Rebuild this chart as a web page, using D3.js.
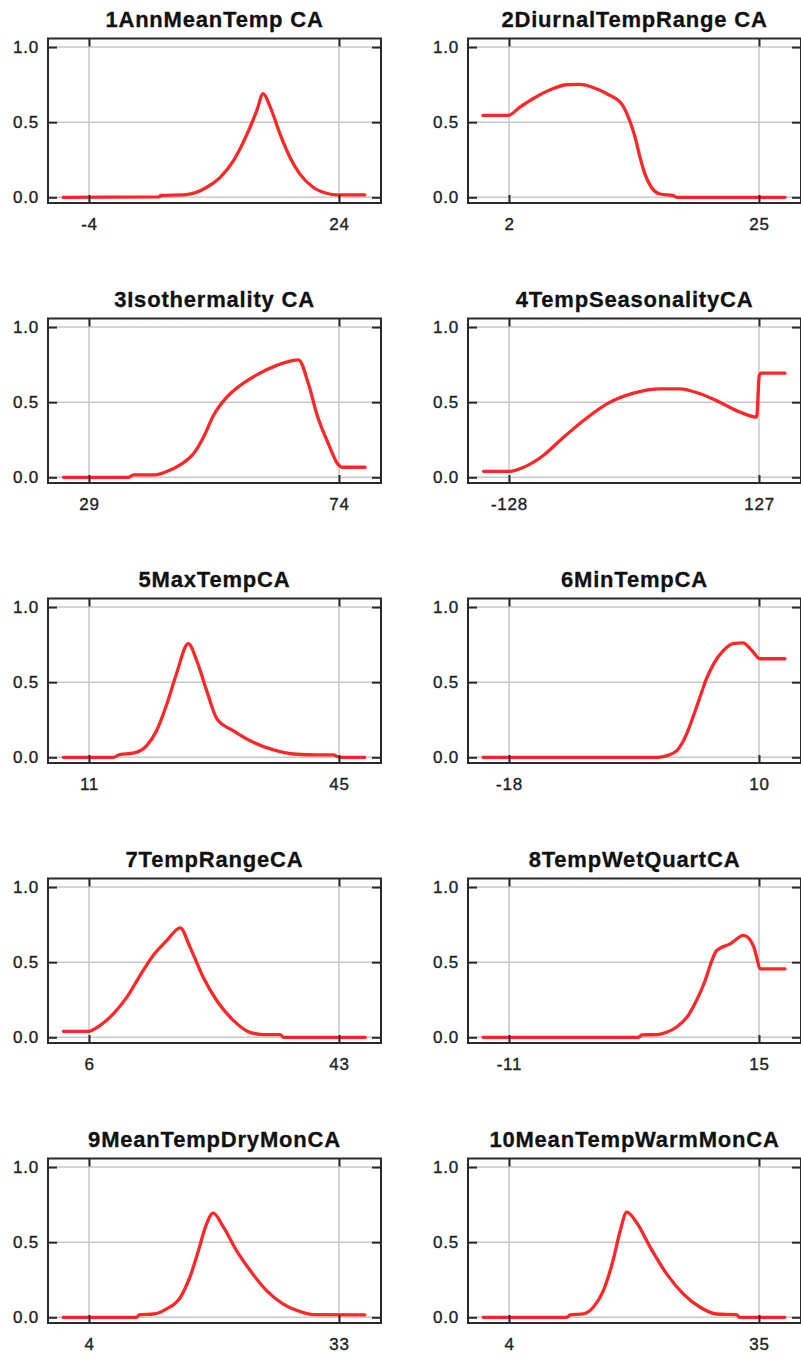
<!DOCTYPE html>
<html>
<head>
<meta charset="utf-8">
<script src="https://cdn.jsdelivr.net/npm/d3@7"></script>
<style>
  html, body { margin: 0; padding: 0; background: #fff; }
  svg { display: block; }
</style>
</head>
<body>
<svg id="chart" width="801" height="1357"></svg>
<script>
// ---------- data ----------
const titles = [
  "1AnnMeanTemp CA", "2DiurnalTempRange CA", "3Isothermality CA", "4TempSeasonalityCA",
  "5MaxTempCA", "6MinTempCA", "7TempRangeCA", "8TempWetQuartCA",
  "9MeanTempDryMonCA", "10MeanTempWarmMonCA"
];
const xTickLabels = [
  [-4, 24], [2, 25], [29, 74], [-128, 127], [11, 45],
  [-18, 10], [6, 43], [-11, 15], [4, 33], [4, 35]
];
const yTickValues = [0.0, 0.5, 1.0];

const s1 = [[-6.9,0],[3.9,0.003],[4.0,0.012],[6.9,0.018],[9.2,0.067],[10.7,0.133],[12.2,0.245],[13.7,0.42],[14.8,0.578],[15.5,0.69],[16.3,0.6],[17.4,0.42],[18.5,0.267],[19.6,0.156],[21.1,0.067],[22.6,0.027],[23.7,0.016],[26.9,0.016]];
const s2 = [[-0.4,0.545],[1.9,0.545],[3.0,0.6],[4.2,0.656],[5.8,0.716],[7.3,0.749],[8.5,0.751],[9.8,0.729],[11.0,0.689],[12.4,0.618],[13.1,0.511],[13.6,0.4],[14.05,0.267],[14.5,0.156],[15.1,0.067],[15.9,0.022],[17.1,0.011],[17.4,0],[27.4,0]];
const s3 = [[24.4,0],[36.1,0],[37.0,0.016],[40.9,0.016],[43.0,0.038],[45.4,0.082],[47.8,0.156],[49.6,0.267],[51.4,0.411],[53.8,0.533],[56.2,0.611],[59.2,0.682],[62.8,0.745],[66.7,0.782],[68.5,0.622],[70.0,0.422],[72.1,0.222],[73.9,0.082],[74.5,0.067],[78.7,0.067]];
const s4 = [[-154,0.04],[-127,0.04],[-113,0.067],[-93,0.145],[-76,0.245],[-52,0.378],[-28,0.489],[-1,0.56],[26,0.589],[46,0.589],[67,0.556],[87,0.5],[108,0.433],[124.6,0.4],[127.3,0.678],[129,0.693],[153.5,0.693]];
const s5 = [[7.5,0],[14.3,0],[15.2,0.018],[17.0,0.027],[18.85,0.078],[20.2,0.178],[21.6,0.356],[22.9,0.556],[24.5,0.756],[25.65,0.644],[27.0,0.444],[28.4,0.256],[30.6,0.178],[33.35,0.1],[36.1,0.049],[38.8,0.022],[42.0,0.016],[44.2,0.016],[45.1,0],[48.5,0]];
const s6 = [[-20.9,0],[-1.3,0],[-0.3,0.011],[0.8,0.044],[1.9,0.156],[2.8,0.3],[3.5,0.42],[4.1,0.52],[4.9,0.62],[6.0,0.71],[7.1,0.757],[8.2,0.762],[9.2,0.711],[10.1,0.656],[12.9,0.656]];
const s7 = [[2.2,0.04],[5.9,0.04],[7.6,0.078],[9.6,0.156],[11.6,0.267],[13.55,0.411],[15.5,0.545],[17.5,0.644],[19.5,0.729],[20.95,0.6],[22.9,0.4],[24.9,0.245],[27.4,0.111],[29.8,0.033],[31.8,0.018],[34.3,0.018],[34.8,0],[46.9,0]];
const s8 = [[-13.7,0],[2.45,0],[2.8,0.016],[4.4,0.018],[5.4,0.033],[6.4,0.067],[7.5,0.133],[8.5,0.245],[9.4,0.378],[10.1,0.511],[10.6,0.578],[12.0,0.622],[13.4,0.678],[14.4,0.611],[14.76,0.533],[15.1,0.456],[17.7,0.456]];
const s9 = [[1.0,0],[9.5,0],[9.9,0.018],[11.5,0.022],[13.0,0.056],[14.6,0.133],[15.7,0.267],[16.7,0.445],[17.5,0.6],[18.4,0.693],[19.6,0.6],[21.1,0.445],[22.7,0.311],[24.6,0.178],[26.5,0.089],[28.5,0.038],[30.0,0.018],[36.0,0.016]];
const s10 = [[0.8,0],[11.15,0],[11.6,0.016],[13.2,0.022],[14.45,0.067],[15.7,0.178],[16.9,0.378],[17.8,0.578],[18.6,0.7],[19.8,0.633],[21.5,0.467],[23.55,0.289],[25.6,0.156],[27.7,0.067],[29.75,0.022],[32.2,0.018],[32.6,0],[38.2,0]];
const seriesList = [s1, s2, s3, s4, s5, s6, s7, s8, s9, s10];

// ---------- layout ----------
const colStep = 420, rowStep = 280;
const box = { left: 48, right: 381, top: 38.5, bottom: 203 };
const tickPx = [89, 339];
const yTop = 1.057, yBottom = -0.038;
const FONT = "'Liberation Sans', Arial, Helvetica, sans-serif";

const svg = d3.select("#chart");

titles.forEach((title, i) => {
  const col = i % 2, row = Math.floor(i / 2);
  const g = svg.append("g").attr("transform", `translate(${col * colStep},${row * rowStep})`);
  const [t1, t2] = xTickLabels[i];

  const x = d3.scaleLinear().domain([t1, t2]).range(tickPx);
  const xDomain = [x.invert(box.left), x.invert(box.right)];
  x.domain(xDomain).range([box.left, box.right]);
  const y = d3.scaleLinear().domain([yBottom, yTop]).range([box.bottom, box.top]);

  // gridlines
  g.append("g").selectAll("line").data(yTickValues).join("line")
    .attr("x1", box.left).attr("x2", box.right)
    .attr("y1", d => y(d)).attr("y2", d => y(d))
    .attr("stroke", "#c8c8c8").attr("stroke-width", 1.5);
  g.append("g").selectAll("line").data(xTickLabels[i]).join("line")
    .attr("x1", d => x(d)).attr("x2", d => x(d))
    .attr("y1", box.top).attr("y2", box.bottom)
    .attr("stroke", "#c8c8c8").attr("stroke-width", 1.5);

  // curve
  const line = d3.line().x(d => x(d[0])).y(d => y(d[1])).curve(d3.curveMonotoneX);
  g.append("path").datum(seriesList[i])
    .attr("d", line)
    .attr("fill", "none")
    .attr("stroke", "#ff1010")
    .attr("stroke-opacity", 0.9)
    .attr("stroke-width", 3.3)
    .attr("stroke-linejoin", "round")
    .attr("stroke-linecap", "round");

  // frame
  g.append("rect")
    .attr("x", box.left).attr("y", box.top)
    .attr("width", box.right - box.left).attr("height", box.bottom - box.top)
    .attr("fill", "none").attr("stroke", "#2a2a2a").attr("stroke-width", 2);

  // axes with inward ticks
  const axL = d3.axisLeft(y).tickValues(yTickValues).tickSize(-9).tickFormat(d3.format(".1f")).tickPadding(9);
  const axR = d3.axisRight(y).tickValues(yTickValues).tickSize(-9).tickFormat("");
  const axT = d3.axisTop(x).tickValues(xTickLabels[i]).tickSize(-8).tickFormat("");
  const axB = d3.axisBottom(x).tickValues(xTickLabels[i]).tickSize(-8).tickFormat(d => String(d)).tickPadding(15);

  const styleAxis = sel => {
    sel.select(".domain").remove();
    sel.selectAll(".tick line").attr("stroke", "#2a2a2a").attr("stroke-width", 2);
    sel.selectAll(".tick text")
      .attr("fill", "#222")
      .attr("stroke", "#222")
      .attr("stroke-width", 0.35)
      .style("font-family", FONT)
      .style("font-size", "17px")
      .style("letter-spacing", "0.8px");
  };
  g.append("g").attr("transform", `translate(${box.left},0)`).call(axL).call(styleAxis);
  g.append("g").attr("transform", `translate(${box.right},0)`).call(axR).call(styleAxis);
  g.append("g").attr("transform", `translate(0,${box.top})`).call(axT).call(styleAxis);
  g.append("g").attr("transform", `translate(0,${box.bottom})`).call(axB).call(styleAxis);

  // title
  g.append("text")
    .attr("x", (box.left + box.right) / 2).attr("y", 27)
    .attr("text-anchor", "middle")
    .style("font-family", FONT)
    .style("font-weight", "bold")
    .style("font-size", "22px")
    .style("letter-spacing", "0.8px")
    .attr("fill", "#111")
    .attr("stroke", "#111")
    .attr("stroke-width", 0.3)
    .text(title);
});
</script>
</body>
</html>
